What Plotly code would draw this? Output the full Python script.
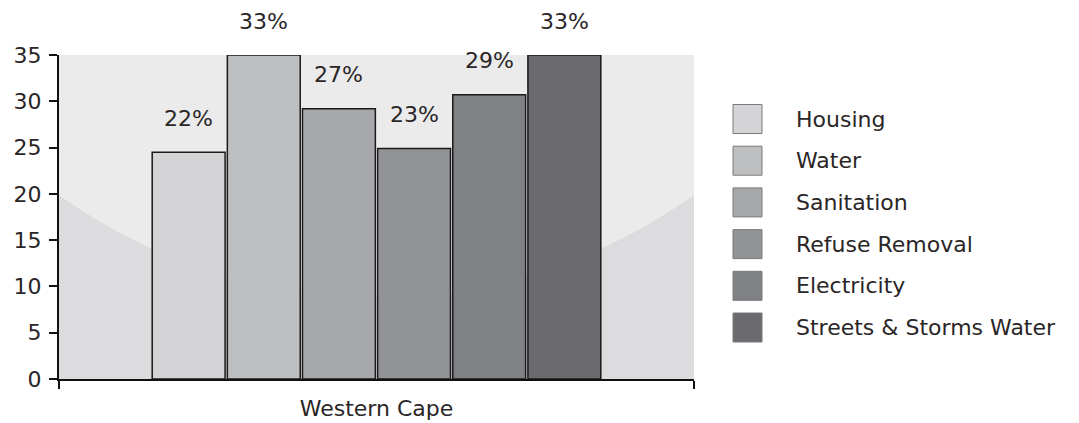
import plotly.graph_objects as go

region = ["Western Cape"]
services = ["Housing", "Water", "Sanitation", "Refuse Removal", "Electricity", "Streets & Storms Water"]
values = [24.5, 35.0, 29.2, 24.9, 30.7, 35.0]
pct_labels = ["22%", "33%", "27%", "23%", "29%", "33%"]
colors = ["#d4d4d6", "#bebfc1", "#a7a8ab", "#929396", "#808184", "#6b6b6f"]
y_ticks = [0, 5, 10, 15, 20, 25, 30, 35]

FONT = "'DejaVu Sans', 'Open Sans', sans-serif"
TXT = "#2a2627"
FS = 22
FW = 400

# page body has an 8px margin: work in a 1071x415 figure
W, H = 1071, 415
L, T = 51, 47
PW, PH = 635, 324

fig = go.Figure()
for name, v, c in zip(services, values, colors):
    fig.add_trace(go.Bar(
        x=region, y=[v], name=name,
        marker=dict(color=c, line=dict(color="#1a1a1a", width=1.5)),
        showlegend=False, cliponaxis=True,
    ))

n = len(services)
for i, (v, lab) in enumerate(zip(values, pct_labels)):
    fig.add_annotation(
        x=0, y=v, xref="x", yref="y", text=lab, showarrow=False,
        xshift=(i - (n - 1) / 2) * 75.2, yshift=34,
        font=dict(family=FONT, size=FS, color=TXT, weight=FW),
    )

# manual legend (positions in target-image pixels)
for i, (name, c) in enumerate(zip(services, colors)):
    yc = 119 + i * 41.7
    fig.add_shape(type="rect", xref="paper", yref="paper",
                  x0=(733 - 59) / PW, x1=(762 - 59) / PW,
                  y0=(379 - (yc + 14.5)) / PH, y1=(379 - (yc - 14.5)) / PH,
                  fillcolor=c, line=dict(color="#7a7a7c", width=1), layer="above")
    fig.add_annotation(xref="paper", yref="paper",
                       x=(794 - 59) / PW, y=(379 - yc) / PH,
                       xanchor="left", yanchor="middle", showarrow=False,
                       text=name, font=dict(family=FONT, size=FS, color=TXT, weight=FW))

# light elliptical background region (clipped to plot area)
fig.add_shape(type="circle", xref="x", yref="y",
              x0=-0.858, x1=0.858, y0=8.86, y1=126.6,
              fillcolor="#ebebeb", line=dict(width=0), layer="below")

fig.update_layout(
    width=W, height=H,
    margin=dict(l=L, r=W - L - PW, t=T, b=H - T - PH, autoexpand=False),
    paper_bgcolor="white", plot_bgcolor="#dcdcde",
    barmode="group", bargap=0.29, bargroupgap=0.03,
    font=dict(family=FONT, size=FS, color=TXT, weight=FW),
    showlegend=False,
    xaxis=dict(
        type="category", range=[-0.5, 0.5], tickson="boundaries",
        ticks="outside", ticklen=8, tickwidth=2, tickcolor="#111",
        showline=True, linecolor="#111", linewidth=2,
        showgrid=False, zeroline=False, ticklabelstandoff=9,
        tickfont=dict(family=FONT, size=FS, color=TXT, weight=FW),
    ),
    yaxis=dict(
        range=[0, 35], tickvals=y_ticks,
        ticks="outside", ticklen=8, tickwidth=2, tickcolor="#111",
        showline=True, linecolor="#111", linewidth=2,
        showgrid=False, zeroline=False, ticklabelstandoff=3,
        tickfont=dict(family=FONT, size=FS, color=TXT, weight=FW),
    ),
)

fig.write_html("out.html")
